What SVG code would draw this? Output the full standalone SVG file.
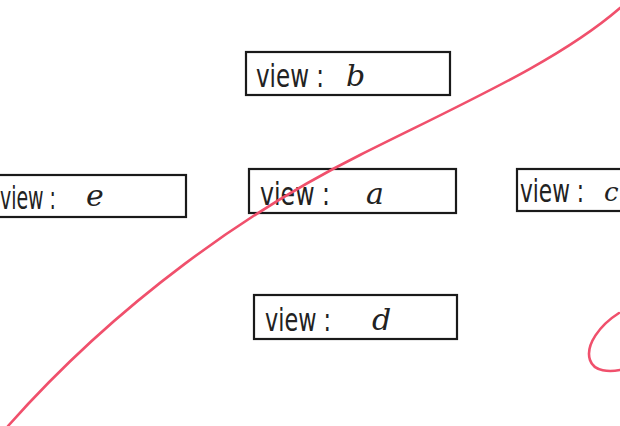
<svg xmlns="http://www.w3.org/2000/svg" width="620" height="426" viewBox="0 0 620 426">
<style>
.box{fill:#fff;stroke:#1a1a1a;stroke-width:2.2}
.lbl{font-family:"DejaVu Sans Condensed","DejaVu Sans",sans-serif;font-size:32px;fill:#222}
.hw{font-family:"DejaVu Serif","Liberation Serif",serif;font-style:italic;font-size:30px;fill:#222}
.red{fill:none;stroke:#f0506c;stroke-width:2.6;stroke-linecap:round}
</style>
<rect width="620" height="426" fill="#fff"/>
<g id="node-b">
<rect class="box" x="246" y="52" width="204" height="43"/>
<text class="lbl" x="256" y="87" textLength="68" lengthAdjust="spacingAndGlyphs">view :</text>
<text class="hw" x="346" y="86">b</text>
</g>
<g id="node-e">
<rect class="box" x="-4" y="175" width="190" height="42"/>
<text class="lbl" x="0" y="209" textLength="56" lengthAdjust="spacingAndGlyphs">view :</text>
<text class="hw" x="86" y="206">e</text>
</g>
<g id="node-a">
<rect class="box" x="249" y="169" width="207" height="44"/>
<text class="lbl" x="260" y="205" textLength="70" lengthAdjust="spacingAndGlyphs">view :</text>
<text class="hw" x="366" y="204">a</text>
</g>
<g id="node-c">
<rect class="box" x="517" y="169" width="110" height="42"/>
<text class="lbl" x="520" y="202" textLength="64" lengthAdjust="spacingAndGlyphs">view :</text>
<text class="hw" x="604" y="201" style="font-size:26px">c</text>
</g>
<g id="node-d">
<rect class="box" x="254" y="295" width="203" height="44"/>
<text class="lbl" x="265" y="331" textLength="66" lengthAdjust="spacingAndGlyphs">view :</text>
<text class="hw" x="372" y="330">d</text>
</g>
<g id="connectors">
<path class="red" d="M8,426 C120,300 250,210 360,155 S560,60 620,8"/>
<path class="red" d="M619,313 C600,325 585,345 590,360 C594,372 610,372 620,370"/>
</g>
</svg>
